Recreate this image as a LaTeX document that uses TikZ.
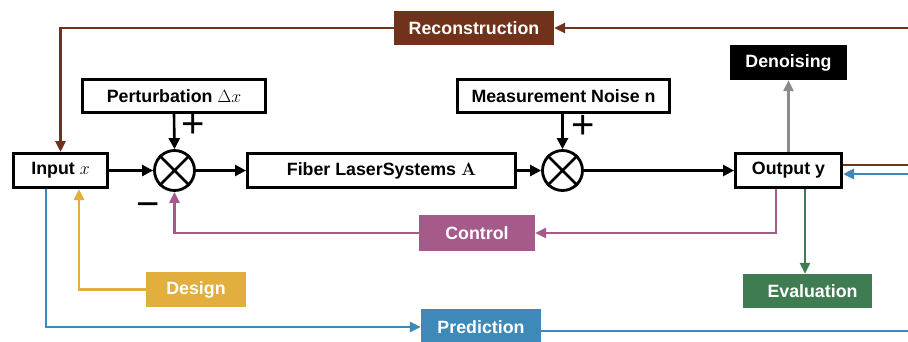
\RequirePackage{fix-cm}
\documentclass[tikz,border=0pt]{standalone}
\usepackage[no-math]{fontspec}
\setmainfont{Liberation Sans}
\usetikzlibrary{arrows.meta}

\definecolor{recbrown}{HTML}{70321A}
\definecolor{ctlpink}{HTML}{A65A8A}
\definecolor{evalgreen}{HTML}{3F7C52}
\definecolor{desyellow}{HTML}{E2AE3E}
\definecolor{predblue}{HTML}{3F89B8}
\definecolor{dengray}{HTML}{8C8C8C}

\tikzset{
  blk/.style={draw=black, line width=3pt, fill=white, inner sep=0pt,
              minimum height=34pt},
  tag/.style={fill=#1, text=white, inner sep=0pt, minimum height=34pt},
  summer/.style={circle, draw=black, line width=2.8pt, minimum size=40pt,
                 inner sep=0pt},
  arr/.style={line width=2.6pt, -{Triangle[length=11pt,width=11pt]}},
  carr/.style={line width=2.8pt, draw=#1, -{Triangle[length=11pt,width=10pt,fill=#1]}},
  cline/.style={line width=2.8pt, draw=#1},
  sign/.style={inner sep=0pt, font=\fontsize{40}{40}\selectfont\mdseries}
}

\begin{document}
\begin{tikzpicture}[x=1pt, y=-1pt, font=\fontsize{17.8}{20}\selectfont\bfseries]
\useasboundingbox[fill=white] (0,0) rectangle (908,341);

% main signal path
\node[blk, minimum width=94] (in) at (60.5,170.5) {Input $x$};
\node[summer] (s1) at (174.5,170.5) {};
\node[blk, minimum width=268] (fib) at (381.5,170.5) {Fiber LaserSystems $\mathbf{A}$};
\node[summer] (s2) at (562.5,170.5) {};
\node[blk, minimum width=106] (out) at (788.5,170.5) {Output y};

% disturbance inputs
\node[blk, minimum width=183, minimum height=33] (pert) at (174,96) {Perturbation $\Delta x$};
\node[blk, minimum width=212, minimum height=33] (noise) at (563.5,96) {Measurement Noise n};

% task labels
\node[tag=recbrown, minimum width=160] (rec) at (474,28) {Reconstruction};
\node[tag=black, minimum width=117, minimum height=35] (den) at (788.5,62.5) {Denoising};
\node[tag=ctlpink, minimum width=116, minimum height=36] (ctl) at (477,233) {Control};
\node[tag=desyellow, minimum width=100, minimum height=35] (des) at (196,289.5) {Design};
\node[tag=evalgreen, minimum width=129] (ev) at (807.5,291) {\hspace*{10pt}Evaluation};
\node[tag=predblue, minimum width=120, minimum height=36] (pred) at (481,327) {Prediction};

% crosses inside the summing junctions
\foreach \s in {s1,s2}{
  \draw[line width=2.8pt] (\s.45) -- (\s.225) (\s.135) -- (\s.315);
}

% signs at the junctions
\node[sign] (p1) at (193.5,126) {+};
\node[sign] (p2) at (583,127) {+};
\node[sign] (m1) at (148.5,210) {\symbol{"2212}};

% forward path
\draw[arr] (in.east) -- (s1.west);
\draw[arr] (s1.east) -- (fib.west);
\draw[arr] (fib.east) -- (s2.west);
\draw[arr] (s2.east) -- (out.west);
\draw[arr] (pert.south) -- (s1.north);
\draw[arr] (noise.south -| s2.north) -- (s2.north);

% denoising
\draw[carr=dengray] (out.north) -- (den.south);

% reconstruction loop (leaves the frame on the right)
\coordinate (recR) at (908,28);
\coordinate (brE) at (908,165);
\draw[carr=recbrown] (recR) -- (rec.east);
\draw[carr=recbrown] (rec.west) -| (in.north);
\draw[cline=recbrown] (out.east |- brE) -- (brE);

% prediction loop
\coordinate (blE) at (908,174);
\coordinate (blB) at (908,331);
\draw[carr=predblue] ([xshift=-14.5]in.south) |- (pred.west);
\draw[cline=predblue] (pred.east |- blB) -- (blB);
\draw[carr=predblue] (blE) -- (out.east |- blE);

% design
\draw[carr=desyellow] (des.west) -| ([xshift=18.5]in.south);

% control loop
\draw[carr=ctlpink] ([xshift=-12.5]out.south) |- (ctl.east);
\draw[carr=ctlpink] (ctl.west) -| (s1.south);

% evaluation
\draw[carr=evalgreen] ([xshift=16.5]out.south) -- ([xshift=16.5]out.south |- ev.north);
\end{tikzpicture}
\end{document}
